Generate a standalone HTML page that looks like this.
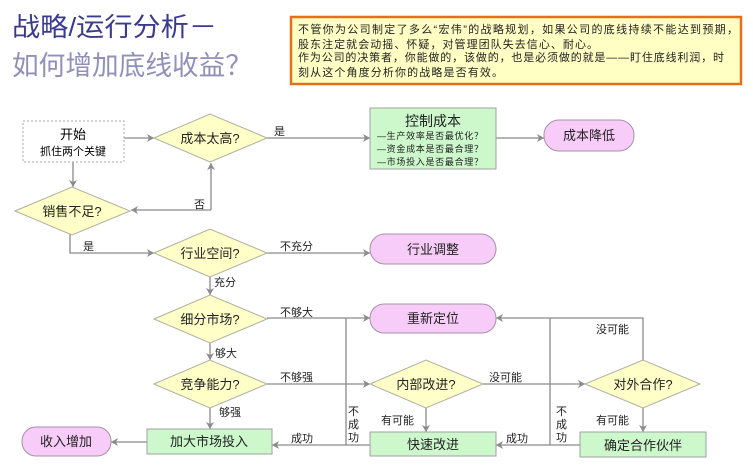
<!DOCTYPE html>
<html><head><meta charset="utf-8"><style>
html,body{margin:0;padding:0;background:#fff;}
svg{display:block;font-family:"Liberation Sans","Noto Sans CJK SC",sans-serif;}
</style></head><body>
<svg width="753" height="468" viewBox="0 0 753 468" xmlns="http://www.w3.org/2000/svg">
<defs>
<marker id="a" markerWidth="8" markerHeight="8" refX="7" refY="4" orient="auto" markerUnits="userSpaceOnUse">
<path d="M0,0 L7,4 L0,8 L2,4 Z" fill="#8a8a8a"/></marker>
</defs>
<text x="12" y="36" font-size="26" fill="#3b3b8e" textLength="205" lengthAdjust="spacingAndGlyphs">战略/运行分析－</text>
<text x="12" y="75" font-size="27" fill="#9090b8" textLength="240" lengthAdjust="spacingAndGlyphs">如何增加底线收益？</text>
<rect x="291" y="17" width="450" height="67" fill="#ffffc4" stroke="#e4701a" stroke-width="2.5"/>
<g font-size="11" fill="#222">
<text x="298" y="33" textLength="440">不管你为公司制定了多么“宏伟”的战略规划，如果公司的底线持续不能达到预期，</text>
<text x="298" y="48" textLength="300">股东注定就会动摇、怀疑，对管理团队失去信心、耐心。</text>
<text x="298" y="61" textLength="426">作为公司的决策者，你能做的，该做的，也是必须做的就是——盯住底线利润，时</text>
<text x="298" y="76" textLength="205">刻从这个角度分析你的战略是否有效。</text>
</g>
<g stroke="#8a8a8a" stroke-width="1.3" fill="none">
<path d="M124,138 H154" marker-end="url(#a)"/>
<path d="M267,138 H370" marker-end="url(#a)"/>
<path d="M496,138 H544" marker-end="url(#a)"/>
<path d="M73,162 V187" marker-end="url(#a)"/>
<path d="M211,210 H131" marker-end="url(#a)"/>
<path d="M211,210 V163" marker-end="url(#a)"/>
<path d="M70,233 V253 H154" marker-end="url(#a)"/>
<path d="M267,253 H370" marker-end="url(#a)"/>
<path d="M210,277 V295" marker-end="url(#a)"/>
<path d="M267,318 H370" marker-end="url(#a)"/>
<path d="M210,342 V360" marker-end="url(#a)"/>
<path d="M267,384 H370" marker-end="url(#a)"/>
<path d="M483,384 H585" marker-end="url(#a)"/>
<path d="M643,360 V318 H496" marker-end="url(#a)"/>
<path d="M643,408 V432" marker-end="url(#a)"/>
<path d="M426,408 V432" marker-end="url(#a)"/>
<path d="M580,445 H496" marker-end="url(#a)"/>
<path d="M550,445 V318"/>
<path d="M370,445 H272" marker-end="url(#a)"/>
<path d="M346,445 V318"/>
<path d="M210,408 V429" marker-end="url(#a)"/>
<path d="M147,442 H111" marker-end="url(#a)"/>
</g>
<rect x="23" y="121" width="101" height="41" fill="#fff" stroke="#aaa" stroke-dasharray="2,2"/>
<text x="73" y="139" font-size="13" text-anchor="middle">开始</text>
<text x="73" y="155" font-size="11" text-anchor="middle">抓住两个关键</text>
<g fill="#ffffc8" stroke="#b0b0a0" stroke-width="1">
<polygon points="154,138 210,114 267,138 210,162"/>
<polygon points="15,211 72,187 130,211 72,235"/>
<polygon points="154,253 210,229 267,253 210,277"/>
<polygon points="154,319 210,295 267,319 210,343"/>
<polygon points="154,384 210,360 267,384 210,408"/>
<polygon points="370,384 426,360 483,384 426,408"/>
<polygon points="585,384 643,360 700,384 643,408"/>
</g>
<g fill="#ccf8cc" stroke="#a0a0a0">
<rect x="370" y="108" width="126" height="61"/>
<rect x="147" y="429" width="125" height="25"/>
<rect x="370" y="432" width="126" height="24"/>
<rect x="580" y="432" width="126" height="25"/>
</g>
<g fill="#f8ccf8" stroke="#a890a8">
<rect x="544" y="120" width="90" height="31" rx="15"/>
<rect x="370" y="234" width="126" height="30" rx="15"/>
<rect x="370" y="304" width="126" height="29" rx="14"/>
<rect x="22" y="427" width="89" height="29" rx="14"/>
</g>
<g font-size="13" text-anchor="middle" fill="#222">
<text x="210" y="143">成本太高?</text>
<text x="72" y="216">销售不足?</text>
<text x="210" y="258">行业空间?</text>
<text x="210" y="324">细分市场?</text>
<text x="210" y="389">竞争能力?</text>
<text x="426" y="389">内部改进?</text>
<text x="643" y="389">对外合作?</text>
<text x="433" y="126" font-size="14">控制成本</text>
<text x="589" y="140">成本降低</text>
<text x="433" y="254">行业调整</text>
<text x="433" y="323">重新定位</text>
<text x="66" y="446">收入增加</text>
<text x="209" y="446">加大市场投入</text>
<text x="433" y="449">快速改进</text>
<text x="643" y="450">确定合作伙伴</text>
</g>
<g font-size="9" fill="#222">
<text x="377" y="139" textLength="106">—生产效率是否最优化？</text>
<text x="377" y="152" textLength="106">—资金成本是否最合理？</text>
<text x="377" y="165" textLength="106">—市场投入是否最合理？</text>
</g>
<g font-size="11" fill="#222">
<text x="274" y="135">是</text>
<text x="194" y="208">否</text>
<text x="83" y="250">是</text>
<text x="280" y="250">不充分</text>
<text x="214" y="286">充分</text>
<text x="280" y="316">不够大</text>
<text x="215" y="357">够大</text>
<text x="280" y="381">不够强</text>
<text x="489" y="381">没可能</text>
<text x="596" y="333">没可能</text>
<text x="219" y="416">够强</text>
<text x="381" y="424">有可能</text>
<text x="596" y="424">有可能</text>
<text x="291" y="442">成功</text>
<text x="506" y="442">成功</text>
<text x="348" y="415">不</text><text x="348" y="428">成</text><text x="348" y="441">功</text>
<text x="556" y="415">不</text><text x="556" y="428">成</text><text x="556" y="441">功</text>
</g>
</svg>
</body></html>
